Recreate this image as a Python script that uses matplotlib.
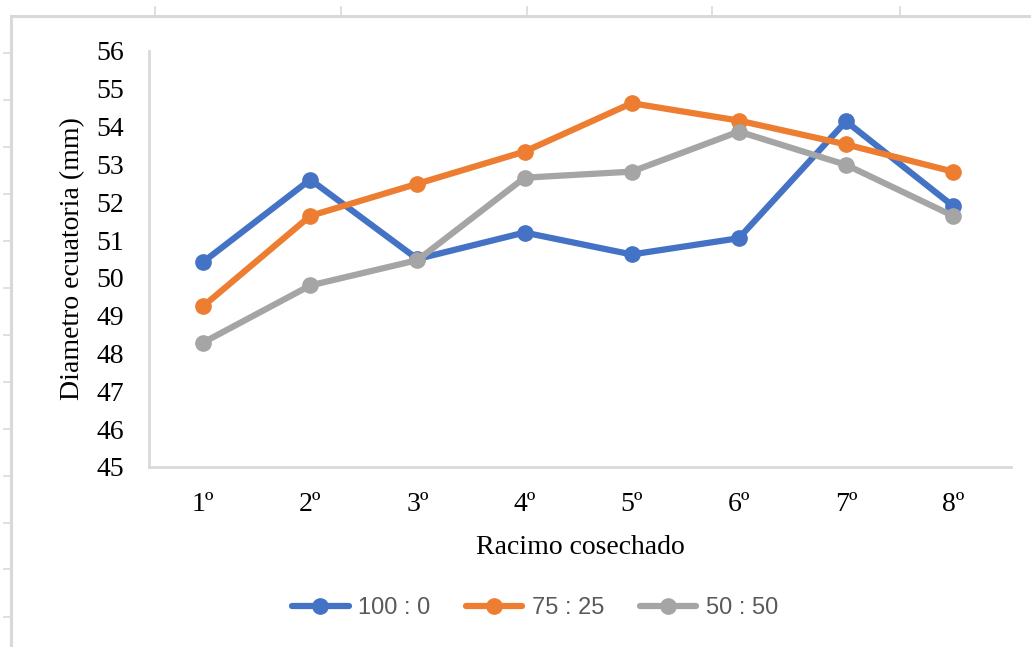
import matplotlib
matplotlib.use("Agg")
import matplotlib.pyplot as plt
from matplotlib.lines import Line2D
import numpy as np

# data
racimos = ["1º", "2º", "3º", "4º", "5º", "6º", "7º", "8º"]
serie_100_0 = [50.42, 52.60, 50.50, 51.20, 50.62, 51.05, 54.14, 51.90]
serie_75_25 = [49.25, 51.64, 52.49, 53.34, 54.62, 54.16, 53.53, 52.81]
serie_50_50 = [48.29, 49.80, 50.47, 52.65, 52.81, 53.87, 52.99, 51.64]
etiquetas = ["100 : 0", "75 : 25", "50 : 50"]
colores = ["#4472C4", "#ED7D31", "#A5A5A5"]

W, H = 1031, 647
fig = plt.figure(figsize=(W / 100, H / 100), dpi=100)
fig.patch.set_facecolor("white")

# spreadsheet cell borders peeking around the chart frame
grid_col = "#d9d9d9"
fig.add_artist(Line2D([11 / W, 11 / W], [0, 1 - 16 / H], color=grid_col, lw=2.2))
fig.add_artist(Line2D([11 / W, 1], [1 - 16 / H, 1 - 16 / H], color=grid_col, lw=2.2))
for xp in [155, 341, 527, 712, 900]:
    fig.add_artist(Line2D([xp / W, xp / W], [1 - 7 / H, 1 - 16 / H], color=grid_col, lw=1.2))
for yp in [53, 100, 147, 194, 241, 288, 335, 382, 429, 476, 523, 569, 617]:
    fig.add_artist(Line2D([4 / W, 11 / W], [1 - yp / H, 1 - yp / H], color=grid_col, lw=1.2))

ax = fig.add_axes([149 / W, 1 - 467 / H, (1011 - 149) / W, (467 - 51) / H])
x = np.arange(len(racimos))
for vals, lab, col in zip([serie_100_0, serie_75_25, serie_50_50], etiquetas, colores):
    ax.plot(x, vals, color=col, lw=4.5, marker="o", markersize=11,
            label=lab, solid_capstyle="round", zorder=3)

ax.set_xlim(-0.505, 7.54)
ax.set_ylim(45, 56)
ax.set_yticks(np.arange(45, 57, 1))
ax.set_xticks(x)
ax.set_xticklabels(racimos)

serif = "Liberation Serif"
for lbl in ax.get_yticklabels() + ax.get_xticklabels():
    lbl.set_fontfamily(serif)
    lbl.set_fontsize(20)
    lbl.set_color("black")
ax.tick_params(axis="both", length=0)
ax.tick_params(axis="y", pad=18)
ax.tick_params(axis="x", pad=18)

for side in ["top", "right"]:
    ax.spines[side].set_visible(False)
for side in ["left", "bottom"]:
    ax.spines[side].set_color(grid_col)
    ax.spines[side].set_linewidth(2)

ax.set_ylabel("Diametro ecuatoria (mm)", fontfamily=serif, fontsize=20, labelpad=8)
ax.set_xlabel("Racimo cosechado", fontfamily=serif, fontsize=20, labelpad=13)

leg = fig.legend(loc="center", bbox_to_anchor=(535 / W, 1 - 608 / H), ncol=3,
                 frameon=False, prop={"family": "Liberation Sans", "size": 17},
                 handlelength=2.4, columnspacing=1.5, handletextpad=0.4)
for t in leg.get_texts():
    t.set_color("#595959")

fig.savefig("out.png", dpi=100, facecolor="white")
